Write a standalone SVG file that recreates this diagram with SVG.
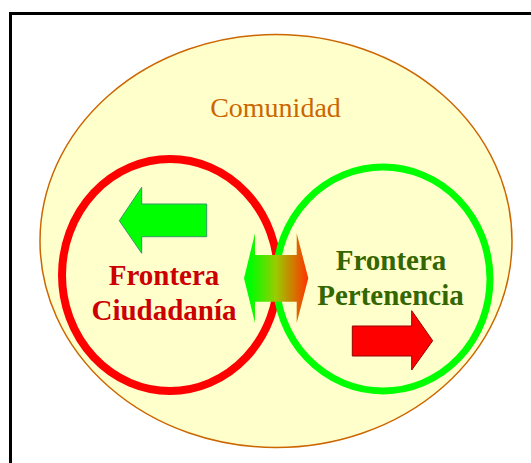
<svg xmlns="http://www.w3.org/2000/svg" width="531" height="463" viewBox="0 0 531 463">
<style>
.lbl{font-family:"Liberation Serif","Times New Roman",serif;text-anchor:middle}
.big{font-size:29px;font-weight:bold}
</style>
<defs>
<linearGradient id="g" x1="244" y1="0" x2="308" y2="0" gradientUnits="userSpaceOnUse">
<stop offset="0.1" stop-color="#00ff00"/>
<stop offset="0.5" stop-color="#99cc00"/>
<stop offset="1" stop-color="#ff3300"/>
</linearGradient>
</defs>
<rect x="0" y="0" width="531" height="463" fill="#ffffff"/>
<rect x="10.5" y="13.5" width="560" height="480" fill="#ffffff" stroke="#000000" stroke-width="3"/>
<g id="comunidad">
<ellipse cx="276" cy="241" rx="236" ry="206.5" fill="#ffffcc" stroke="#cc6600" stroke-width="1.5"/>
<text class="lbl" x="275.5" y="117" font-size="28" fill="#cc6600">Comunidad</text>
</g>
<g id="ciudadania">
<ellipse cx="170" cy="275" rx="108" ry="116" fill="none" stroke="#ff0000" stroke-width="8"/>
</g>
<g id="pertenencia">
<ellipse cx="383" cy="279" rx="107" ry="112" fill="none" stroke="#00ff00" stroke-width="7"/>
</g>
<g id="connectors">
<polygon points="119.3,220.7 141.7,187.3 141.7,204 206.7,204 206.7,236.7 141.7,236.7 141.7,253.3" fill="#00ff00" stroke="#339966" stroke-width="1"/>
<polygon points="432.7,340.7 411.7,310.7 411.7,326 352.3,326 352.3,356 411.7,356 411.7,370" fill="#ff0000" stroke="#990000" stroke-width="1"/>
<polygon points="244,278.3 255,233.3 255,255 296.7,255 296.7,233.3 308.3,278.3 296.7,323 296.7,301.7 255,301.7 255,323" fill="url(#g)"/>
</g>
<g id="labels">
<text class="lbl big" x="164" y="285" fill="#cc0000">Frontera</text>
<text class="lbl big" x="164" y="320" fill="#cc0000">Ciudadanía</text>
<text class="lbl big" x="391" y="270" fill="#336600">Frontera</text>
<text class="lbl big" x="390.5" y="305" fill="#336600">Pertenencia</text>
</g>
</svg>
